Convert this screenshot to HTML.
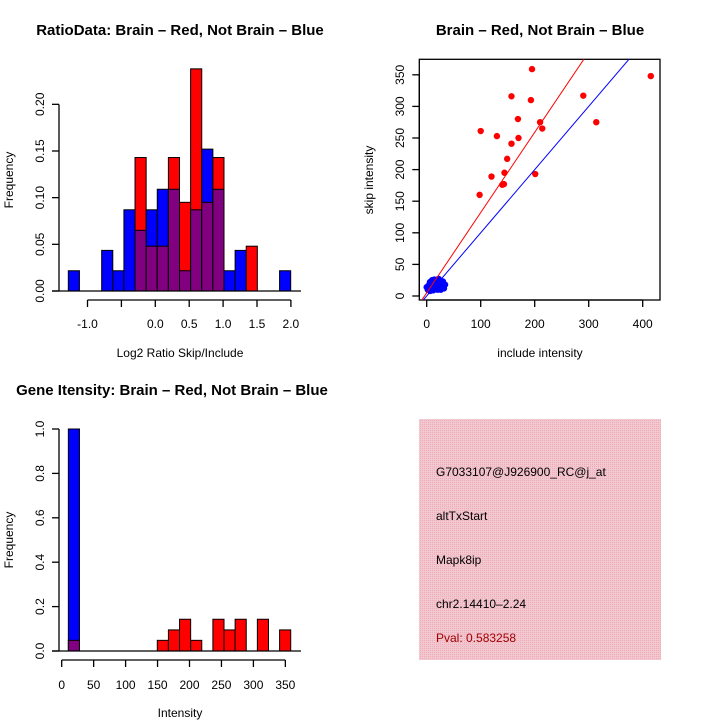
<!DOCTYPE html>
<html><head><meta charset="utf-8"><style>
html,body{margin:0;padding:0;background:#fff;}
svg text{font-family:"Liberation Sans",sans-serif;}
</style></head><body>
<svg id="c" width="720" height="720" viewBox="0 0 720 720" xmlns="http://www.w3.org/2000/svg">
<defs>
<pattern id="hatch" width="2" height="2" patternUnits="userSpaceOnUse">
<rect width="2" height="2" fill="#f0c8d0"/><rect width="1" height="1" fill="#f4a8b8"/>
</pattern>
</defs>
<text x="180" y="35" font-size="15" font-weight="bold" text-anchor="middle">RatioData: Brain – Red, Not Brain – Blue</text>
<text x="180" y="357" font-size="12" text-anchor="middle">Log2 Ratio Skip/Include</text>
<text transform="translate(13,180) rotate(-90)" font-size="12" text-anchor="middle">Frequency</text>
<text x="540" y="35" font-size="15" font-weight="bold" text-anchor="middle">Brain – Red, Not Brain – Blue</text>
<text x="540" y="357" font-size="12" text-anchor="middle">include intensity</text>
<text transform="translate(373,180) rotate(-90)" font-size="12" text-anchor="middle">skip intensity</text>
<text x="172" y="395" font-size="15" font-weight="bold" text-anchor="middle">Gene Itensity: Brain – Red, Not Brain – Blue</text>
<text x="180" y="717" font-size="12" text-anchor="middle">Intensity</text>
<text transform="translate(13,540) rotate(-90)" font-size="12" text-anchor="middle">Frequency</text>
<g>
<rect x="419" y="419" width="242" height="241" fill="url(#hatch)"/>
<text x="436" y="476" font-size="12">G7033107@J926900_RC@j_at</text>
<text x="436" y="520" font-size="12">altTxStart</text>
<text x="436" y="564" font-size="12">Mapk8ip</text>
<text x="436" y="608" font-size="12">chr2.14410–2.24</text>
<text x="436" y="642" font-size="12" fill="#a00000">Pval: 0.583258</text>
</g>
</svg>
<script>
// ---- Ratio histogram data ----
const ratioBinStart = -1.283;
const ratioBinWidth = 0.164;
const ratioBlue = [0.0217,0,0,0.0435,0.0217,0.087,0.065,0.087,0.109,0.109,0.0217,0.087,0.152,0.109,0.0217,0.0435,0,0,0,0.0217];
const ratioRed  = [0,0,0,0,0,0,0.143,0.048,0.048,0.143,0.095,0.238,0.095,0.143,0,0,0.048,0,0,0];
const ratioXTicks = [-1.0,-0.5,0.0,0.5,1.0,1.5,2.0];
const ratioXLabels = ["-1.0","","0.0","0.5","1.0","1.5","2.0"];
const ratioYTicks = [0,0.05,0.10,0.15,0.20];
const ratioYLabels = ["0.00","0.05","0.10","0.15","0.20"];
// ---- Scatter data ----
const redX = [100,98,120,130,157,157,144,149,140,143,169,170,193,195,210,214,201,290,314,415];
const redY = [261,160,189,253,316,241,195,217,176,177,280,250,310,359,275,265,193,317,275,348];
const blueX = [0,2,4,5,6,8,9,10,11,12,13,14,15,16,17,18,19,20,21,22,23,24,25,26,27,28,29,30,31,3,7,12,16,20,24,28,32,10,14,18,22,26,30,34,6,9];
const blueY = [14,10,12,18,8,15,20,12,22,16,24,11,19,14,25,17,13,21,15,24,12,18,22,10,16,20,14,23,12,16,13,9,12,10,11,13,12,25,26,23,27,24,20,18,22,17];
const scatterXTicks = [0,100,200,300,400];
const scatterYTicks = [0,50,100,150,200,250,300,350];
const redLine = [1.27,5];
const blueLine = [1.0,0];
// ---- Gene histogram data ----
const geneBinStart = 10.4;
const geneBinWidth = 17.4;
const geneBlue = [1.0,0,0,0,0,0,0,0,0,0,0,0,0,0,0,0,0,0,0,0];
const geneRed  = [0.048,0,0,0,0,0,0,0,0.048,0.095,0.143,0.048,0,0.143,0.095,0.143,0,0.143,0,0.095];
const geneXTicks = [0,50,100,150,200,250,300,350];
const geneYTicks = [0,0.2,0.4,0.6,0.8,1.0];
const geneYLabels = ["0.0","0.2","0.4","0.6","0.8","1.0"];

const svg = document.getElementById('c');
const NS = 'http://www.w3.org/2000/svg';
function mk(tag, attrs, parent){const e=document.createElementNS(NS,tag);for(const k in attrs)e.setAttribute(k,attrs[k]);(parent||svg).appendChild(e);return e;}

function histogram(name, sx, sy, start, w, blue, red, x0, x1){
  const g = mk('g',{});
  
  
  for(let i=0;i<blue.length;i++){
    const a=start+i*w, b=a+w, hb=blue[i], hr=red[i];
    const hi=Math.max(hb,hr), lo=Math.min(hb,hr);
    if(hi>0){
      const r=mk('rect',{x:sx(a),y:sy(hi),width:sx(b)-sx(a),height:sy(0)-sy(hi),fill:hb>=hr?'#0000ff':'#ff0000',stroke:'#000','stroke-width':1},g);
      
      
    }
    if(lo>0){
      const r=mk('rect',{x:sx(a),y:sy(lo),width:sx(b)-sx(a),height:sy(0)-sy(lo),fill:'#800080',stroke:'#000','stroke-width':1},g);
      
      
    }
  }
  const base=mk('line',{x1:x0,x2:x1,y1:sy(0),y2:sy(0),stroke:'#000','stroke-width':1.3});
  
  
}

function yAxis(name, sy, ticks, labels, x, labelX){
  const g=mk('g',{});
  
  
  mk('line',{x1:x,x2:x,y1:sy(ticks[0]),y2:sy(ticks[ticks.length-1]),stroke:'#000','stroke-width':1.3},g);
  ticks.forEach((t,i)=>{
    mk('line',{x1:x-7,x2:x,y1:sy(t),y2:sy(t),stroke:'#000','stroke-width':1.3},g);
    const tx=mk('text',{transform:`translate(${labelX},${sy(t)}) rotate(-90)`,'font-size':12,'text-anchor':'middle'},g);
    tx.textContent=labels[i];
  });
}
function xAxis(name, sx, ticks, labels, y, labelY){
  const g=mk('g',{});
  
  
  mk('line',{x1:sx(ticks[0]),x2:sx(ticks[ticks.length-1]),y1:y,y2:y,stroke:'#000','stroke-width':1.3},g);
  ticks.forEach((t,i)=>{
    mk('line',{x1:sx(t),x2:sx(t),y1:y,y2:y+7,stroke:'#000','stroke-width':1.3},g);
    const tx=mk('text',{x:sx(t),y:labelY,'font-size':12,'text-anchor':'middle'},g);
    tx.textContent=labels[i];
  });
}

// Ratio histogram
const rsx=v=>155.3+v*67.8, rsy=v=>291-v*933.4;
histogram('ratio',rsx,rsy,ratioBinStart,ratioBinWidth,ratioBlue,ratioRed,52,301);
yAxis('ratio-y-axis',rsy,ratioYTicks,ratioYLabels,59,44);
xAxis('ratio-x-axis',rsx,ratioXTicks,ratioXLabels,300,328);

// Gene histogram
const gsx=v=>61.7+v*0.639, gsy=v=>651-v*222;
histogram('gene',gsx,gsy,geneBinStart,geneBinWidth,geneBlue,geneRed,52,301);
yAxis('gene-y-axis',gsy,geneYTicks,geneYLabels,59,44);
xAxis('gene-x-axis',gsx,geneXTicks,geneXTicks.map(String),660,689);

// Scatter
const ssx=v=>426.7+v*0.54, ssy=v=>296-v*0.632;
const box=mk('rect',{x:419.3,y:59.3,width:240.7,height:240.7,fill:'none',stroke:'#000','stroke-width':1.3});


xAxis('scatter-x-axis',ssx,scatterXTicks,scatterXTicks.map(String),300,328);
yAxis('scatter-y-axis',ssy,scatterYTicks,scatterYTicks.map(String),419.3,404);
const clip=mk('clipPath',{id:'sclip'});
mk('rect',{x:419.3,y:59.3,width:240.7,height:240.7},clip);
const pts=mk('g',{'clip-path':'url(#sclip)'});


blueX.forEach((x,i)=>{
  const c=mk('circle',{cx:ssx(x),cy:ssy(blueY[i]),r:3.2,fill:'#0000ff'},pts);
  
  
});
redX.forEach((x,i)=>{
  const c=mk('circle',{cx:ssx(x),cy:ssy(redY[i]),r:3.2,fill:'#ff0000'},pts);
  
  
});
[[redLine,'#ff0000','red-fit-line'],[blueLine,'#0000ff','blue-fit-line']].forEach(([L,col,nm])=>{
  const xa=-20,xb=450;
  const l=mk('line',{x1:ssx(xa),y1:ssy(L[0]*xa+L[1]),x2:ssx(xb),y2:ssy(L[0]*xb+L[1]),stroke:col,'stroke-width':1},pts);
  
  
});
</script>
</body></html>
